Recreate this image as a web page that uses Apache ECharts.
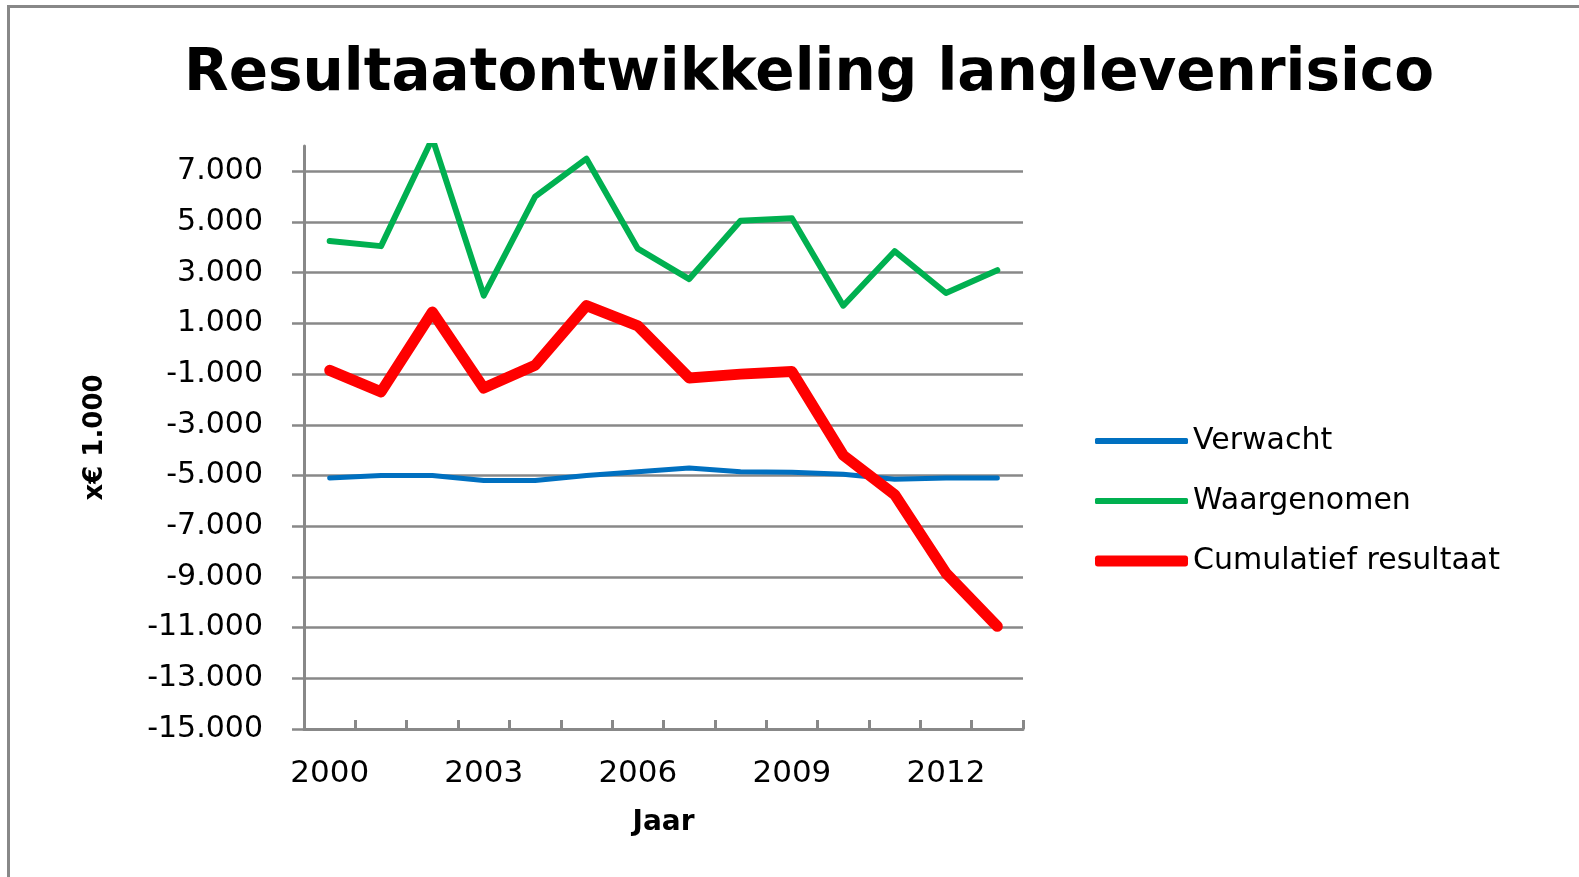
<!DOCTYPE html>
<html>
<head>
<meta charset="utf-8">
<script src="https://cdn.jsdelivr.net/npm/echarts@6/dist/echarts.min.js"></script>
<style>
html,body{margin:0;padding:0;background:#fff;}
#chart{width:1579px;height:877px;}
</style>
</head>
<body>
<div id="chart"></div>
<script>
const years = ['2000','2001','2002','2003','2004','2005','2006','2007','2008','2009','2010','2011','2012','2013'];
const verwacht = [-5100,-5000,-5000,-5200,-5200,-5000,-4850,-4700,-4850,-4870,-4950,-5150,-5100,-5100];
const waargenomen = [4250,4050,8300,2100,6000,7500,3950,2750,5050,5150,1700,3850,2200,3100];
const cumulatief = [-850,-1700,1450,-1550,-650,1700,900,-1150,-1000,-900,-4200,-5750,-8850,-10950];
const yTicks = [-15000,-13000,-11000,-9000,-7000,-5000,-3000,-1000,1000,3000,5000,7000];
const seriesNames = ['Verwacht','Waargenomen','Cumulatief resultaat'];

function fmt(v){
  const s = Math.abs(v).toString().replace(/\B(?=(\d{3})+(?!\d))/g,'.');
  return (v<0?'-':'') + s;
}

const gray = '#888888';
const chart = echarts.init(document.getElementById('chart'));
const legendBase = {
  left: 1090, orient: 'horizontal', itemWidth: 93, icon: 'roundRect', itemGap: 0,
  textStyle: {fontFamily: 'DejaVu Sans', fontSize: 30, color: '#000'},
  selectedMode: false
};
chart.setOption({
  animation: false,
  backgroundColor: '#fff',
  title: {
    text: 'Resultaatontwikkeling langlevenrisico',
    left: 804, top: 41, textAlign: 'center',
    textStyle: {fontFamily: 'DejaVu Sans', fontWeight: 'bold', fontSize: 58, color: '#000'}
  },
  graphic: [{
    type: 'rect', silent: true,
    shape: {x: 8.5, y: 6.5, width: 1700, height: 1000},
    style: {fill: 'none', stroke: '#888', lineWidth: 3}
  }],
  legend: [
    Object.assign({}, legendBase, {top: 421, itemHeight: 6, data: [seriesNames[0]]}),
    Object.assign({}, legendBase, {top: 481, itemHeight: 6, data: [seriesNames[1]]}),
    Object.assign({}, legendBase, {top: 541, itemHeight: 11, data: [seriesNames[2]]})
  ],
  grid: {left: 304, right: 556, top: 146, bottom: 148, containLabel: false},
  xAxis: {
    type: 'category', data: years, boundaryGap: true,
    name: 'Jaar', nameLocation: 'middle', nameGap: 80,
    nameTextStyle: {fontFamily: 'DejaVu Sans', fontWeight: 'bold', fontSize: 28, color: '#000'},
    axisLine: {show: true, onZero: false, lineStyle: {color: gray, width: 3}},
    axisTick: {show: true, inside: true, length: 9, interval: 0, alignWithLabel: false, lineStyle: {color: gray, width: 3}},
    axisLabel: {interval: 2, margin: 29, fontFamily: 'DejaVu Sans', fontSize: 31, color: '#000'},
    splitLine: {show: false}
  },
  yAxis: {
    type: 'value', min: -15000, max: 8000,
    name: 'x€ 1.000', nameLocation: 'middle', nameRotate: 90, nameGap: 196,
    nameTextStyle: {fontFamily: 'DejaVu Sans', fontWeight: 'bold', fontSize: 26, color: '#000'},
    axisLine: {show: true, lineStyle: {color: gray, width: 3}},
    axisTick: {show: true, inside: false, length: 12, customValues: yTicks, lineStyle: {color: gray, width: 2.5}},
    axisLabel: {customValues: yTicks, margin: 41, fontFamily: 'DejaVu Sans', fontSize: 30, color: '#000', formatter: fmt},
    splitLine: {show: true, lineStyle: {color: gray, width: 2.5}}
  },
  series: [
    {name: seriesNames[0], type: 'line', data: verwacht, symbol: 'none', z: 2,
     itemStyle: {color: '#0070C0'}, lineStyle: {color: '#0070C0', width: 5, cap: 'round', join: 'round'}},
    {name: seriesNames[1], type: 'line', data: waargenomen, symbol: 'none', z: 3, clip: true,
     itemStyle: {color: '#00B050'}, lineStyle: {color: '#00B050', width: 6, cap: 'round', join: 'round'}},
    {name: seriesNames[2], type: 'line', data: cumulatief, symbol: 'none', z: 4,
     itemStyle: {color: '#FF0000'}, lineStyle: {color: '#FF0000', width: 11, cap: 'round', join: 'round'}}
  ]
});
</script>
</body>
</html>
